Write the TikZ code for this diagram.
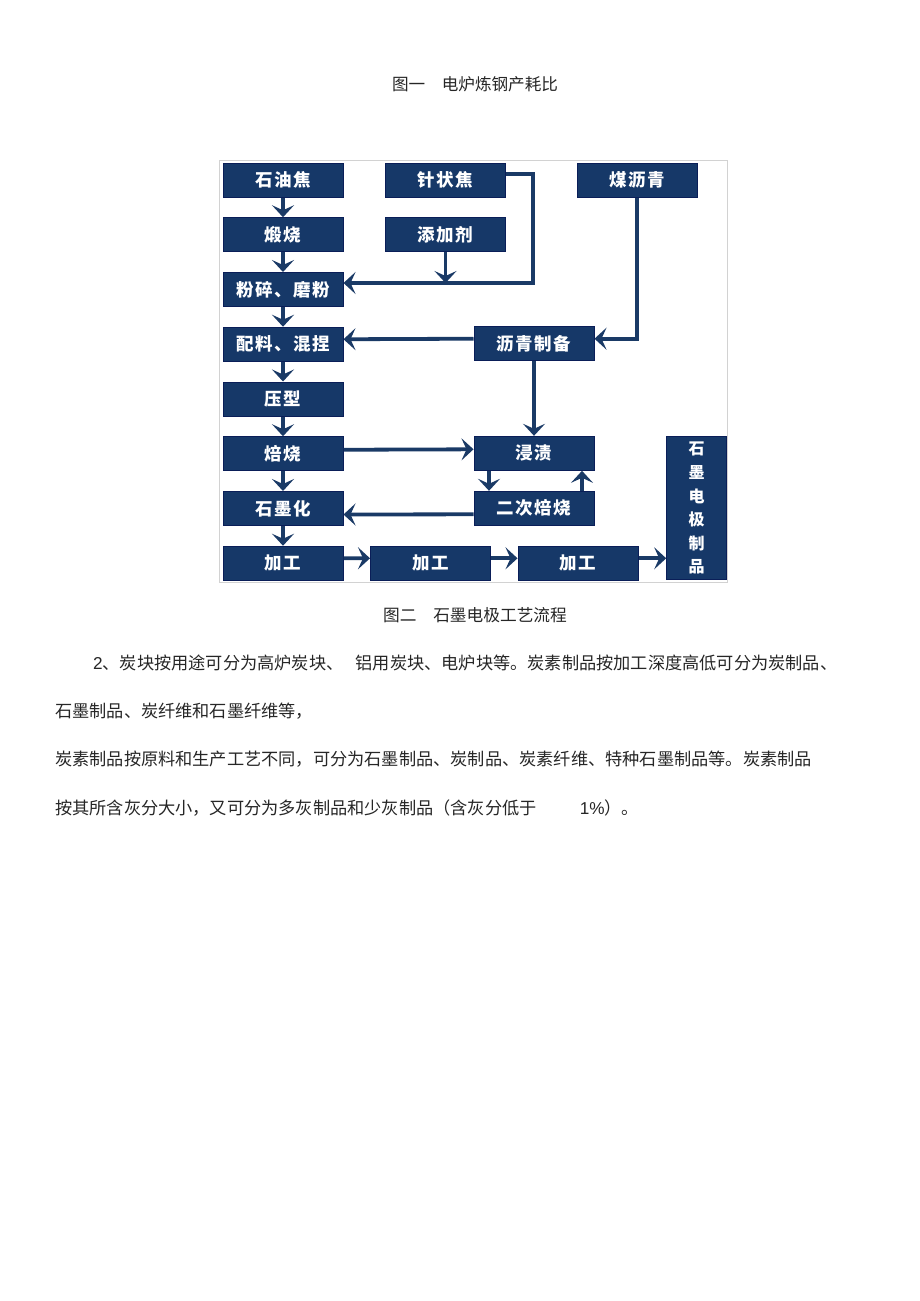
\documentclass[tikz,border=0pt]{standalone}
\usepackage{fontspec}
\usepackage{xcolor}
\usetikzlibrary{arrows.meta,calc}
\setmainfont{Liberation Sans}
\newfontfamily\cjk{Noto Sans CJK SC}
\newfontfamily\boxfont{Noto Sans CJK SC}[LetterSpace=8]
\definecolor{boxblue}{RGB}{22,56,104}
\definecolor{edgeblue}{RGB}{10,30,88}
\definecolor{lineblue}{RGB}{26,58,102}

\begin{document}
\begin{tikzpicture}[x=1pt,y=-1pt,
  box/.style={draw=edgeblue,line width=1pt,fill=boxblue,text=white,inner sep=0pt,
    minimum width=120pt,minimum height=34pt,font=\boxfont\bfseries\fontsize{17.5}{20}\selectfont},
  flow/.style={draw=lineblue,line width=3.8pt,-{Stealth[length=12pt,width=22pt,inset=5pt]}},
  txt/.style={anchor=west,inner sep=0pt,text=black!85,font=\cjk\fontsize{17.2}{20}\selectfont}]
\fill[white] (0,0) rectangle (920,1301);
\useasboundingbox (0,0) rectangle (920,1301);

\node[txt,anchor=center,font=\cjk\fontsize{16.6}{20}\selectfont] (CAP1) at (475,84) {图一\hspace{1em}电炉炼钢产耗比};
\draw[gray!35,line width=0.8pt] (219,160) rectangle (727,582);

% left column, top to bottom
\foreach \nm/\lab [count=\i from 0] in {coke/石油焦,calc/煅烧,mill/粉碎、磨粉,mix/配料、混捏,press/压型,bake/焙烧,graph/石墨化,mach1/加工}
  \node[box] (\nm) at (283,{180+54.75*\i}) {\lab};
\node[box] (needle) at (445.5,180) {针状焦};
\node[box] (additive) at (445.5,234.5) {添加剂};
\node[box] (coaltar) at (637,180) {煤沥青};
\node[box] (pitch) at (534,343.7) {沥青制备};
\node[box] (imp) at (534,453.3) {浸渍};
\node[box] (rebake) at (534,508.3) {二次焙烧};
\node[box] (mach2) at (430.5,563.3) {加工};
\node[box] (mach3) at (578,563.3) {加工};
\node[box,minimum width=60pt,minimum height=143pt,align=center,
  font=\boxfont\bfseries\fontsize{16}{23.6}\selectfont] (product) at (696.7,508.3) {石\\墨\\电\\极\\制\\品};

\foreach \a/\b in {coke/calc,calc/mill,mill/mix,mix/press,press/bake,bake/graph,graph/mach1}
  \draw[flow] (\a) -- (\b);
\coordinate (J) at (533,283);
\draw[flow] ([yshift=6pt]needle.east) -| (J) -- (J -| mill.east);
\draw[flow] (additive) -- (additive |- J);
\draw[flow] (coaltar.south) |- ([yshift=5pt]pitch.east);
\draw[flow] ([yshift=5pt]pitch.west) -- ([yshift=5pt]mix.east);
\draw[flow] (pitch) -- (imp);
\draw[flow] ([yshift=4pt]bake.east) -- ([yshift=4pt]imp.west);
\draw[flow] ([xshift=-45pt]imp.south) -- ([xshift=-45pt]rebake.north);
\draw[flow] ([xshift=48pt]rebake.north) -- ([xshift=48pt]imp.south);
\draw[flow] ([yshift=-6pt]rebake.west) -- ([yshift=-6pt]graph.east);
\draw[flow] ([yshift=5pt]mach1.east) -- ([yshift=5pt]mach2.west);
\draw[flow] ([yshift=5pt]mach2.east) -- ([yshift=5pt]mach3.west);
\draw[flow] ([yshift=5pt]mach3.east) -- ([yshift=5pt]mach3.east -| product.west);

\node[txt,anchor=center,font=\cjk\fontsize{16.7}{20}\selectfont] (CAP2) at (475,615) {图二\hspace{1em}石墨电极工艺流程};
%\draw[red] (55,640) -- (55,820);
\node[txt] (L1) at (93,663) {{\rmfamily 2}、炭块按用途可分为高炉炭块、\hspace{0.7em}铝用炭块、电炉块等。炭素制品按加工深度高低可分为炭制品、};
\node[txt] (L2) at (55,711) {石墨制品、炭纤维和石墨纤维等，};
\node[txt] (L3) at (55,759) {炭素制品按原料和生产工艺不同，可分为石墨制品、炭制品、炭素纤维、特种石墨制品等。炭素制品};
\node[txt] (L4) at (55,808) {按其所含灰分大小，又可分为多灰制品和少灰制品（含灰分低于\hspace{2.5em}{\rmfamily 1\%}）。};
\end{tikzpicture}
\end{document}
